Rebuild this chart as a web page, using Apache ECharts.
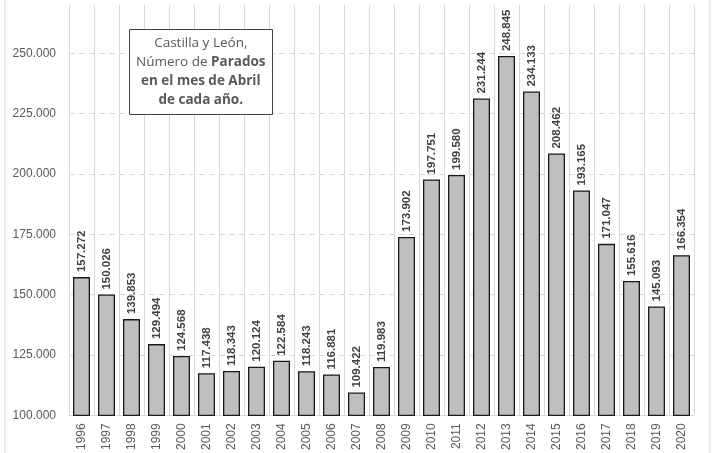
<!DOCTYPE html>
<html><head><meta charset="utf-8">
<script src="https://cdn.jsdelivr.net/npm/echarts@6/dist/echarts.min.js"></script>
<style>html,body{margin:0;padding:0;background:#fff}#c{width:714px;height:453px}</style>
</head><body><div id="c"></div>
<script>
const years = ['1996','1997','1998','1999','2000','2001','2002','2003','2004','2005','2006','2007','2008','2009','2010','2011','2012','2013','2014','2015','2016','2017','2018','2019','2020'];
const parados = [157272,150026,139853,129494,124568,117438,118343,120124,122584,118243,116881,109422,119983,173902,197751,199580,231244,248845,234133,208462,193165,171047,155616,145093,166354];
const yTicks = [125000,150000,175000,200000,225000,250000];
const fmt = v => String(v).replace(/\B(?=(\d{3})+(?!\d))/g, '.');
const chart = echarts.init(document.getElementById('c'));
chart.setOption({
  animation:false,
  title:{
    text:'{n|Castilla y León,}\n{n|Número de }{b|Parados}\n{b|en el mes de Abril}\n{b|de cada año.}',
    left:129, top:29,
    padding:[5,7,5,7],
    backgroundColor:'#fff', borderColor:'#404040', borderWidth:1,
    textStyle:{
      fontFamily:'Open Sans', fontSize:13.5, lineHeight:19, fontWeight:'normal', color:'#595959',
      rich:{
        n:{fontFamily:'Open Sans', fontSize:13.5, color:'#595959', fontWeight:'normal', lineHeight:19, align:'center'},
        b:{fontFamily:'Open Sans', fontSize:13.5, color:'#595959', fontWeight:'bold', lineHeight:19, align:'center'}
      }
    }
  },
  graphic:[{type:'rect', shape:{x:5,y:-10,width:705,height:480}, style:{fill:'none', stroke:'#d9d9d9', lineWidth:1}, silent:true, z:-10}],
  grid:{left:69, right:20, top:5, bottom:37},
  xAxis:{
    type:'category', data:years,
    axisLine:{show:true, lineStyle:{color:'#d9d9d9', width:1}},
    axisTick:{show:false},
    splitLine:{show:true, lineStyle:{color:'#d9d9d9', width:1}},
    axisLabel:{rotate:90, color:'#595959', fontFamily:'Liberation Sans', fontSize:12, margin:8, interval:0}
  },
  yAxis:{
    type:'value', min:100000, max:270000, interval:25000,
    axisLine:{show:false}, axisTick:{show:false},
    splitLine:{show:false},
    axisLabel:{color:'#595959', fontFamily:'Liberation Sans', fontSize:12, margin:13, showMaxLabel:false,
      formatter:v=>fmt(v)}
  },
  series:[{
    type:'bar', data:parados, barCategoryGap:'32%',
    itemStyle:{color:'#bfbfbf', borderColor:'#1a1a1a', borderWidth:1.3},
    label:{show:true, position:'top', rotate:90, align:'left', verticalAlign:'middle', distance:5,
      color:'#404040', fontFamily:'Liberation Sans', fontWeight:'bold', fontSize:11.5,
      formatter:p=>fmt(p.value)},
    markLine:{silent:true, symbol:'none', label:{show:false}, z:0,
      lineStyle:{color:'#d9d9d9', type:[6,4], width:1},
      data:yTicks.map(v=>({yAxis:v}))}
  }]
});
</script></body></html>
